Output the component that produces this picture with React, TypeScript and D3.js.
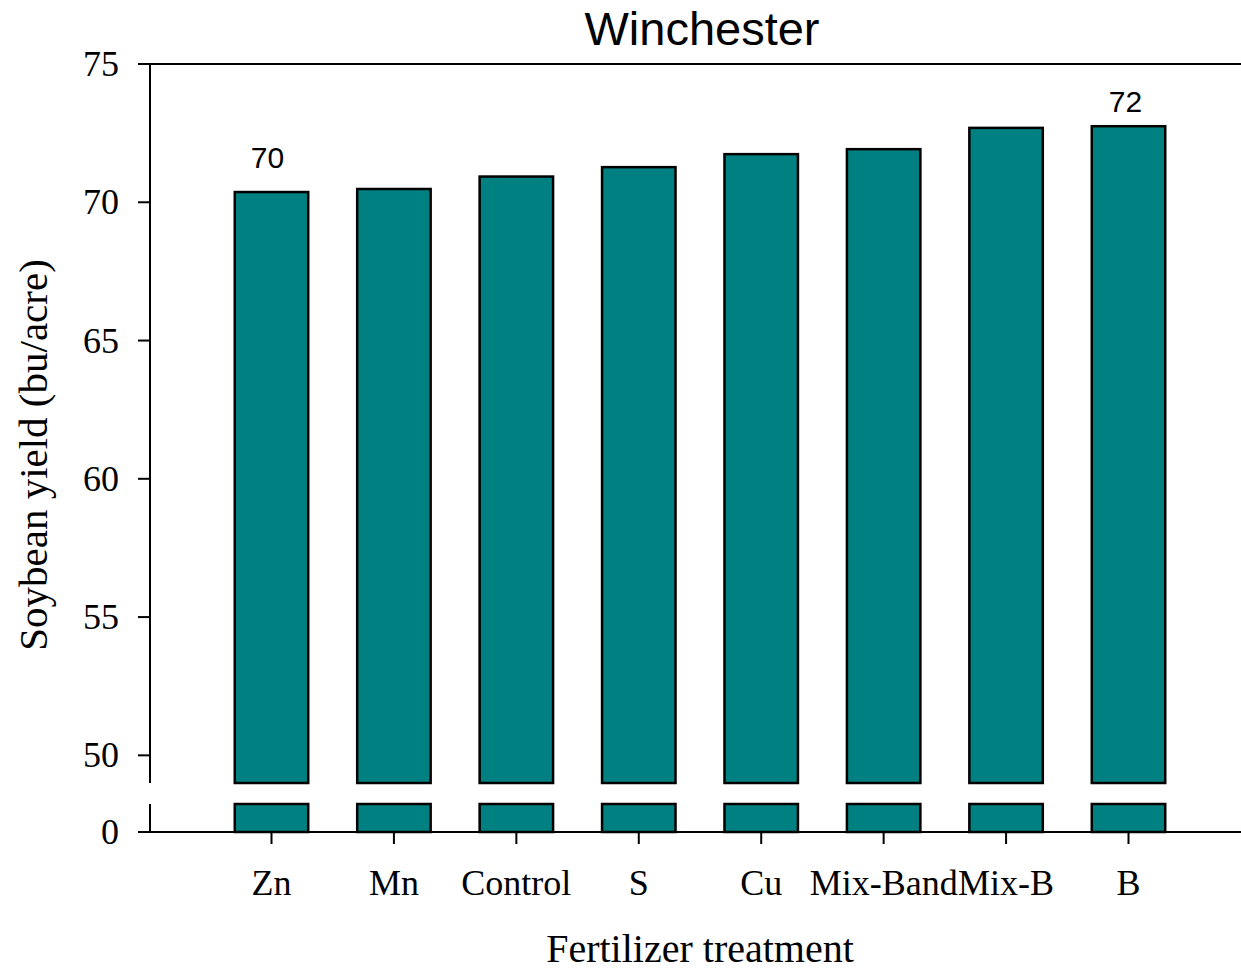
import React from "react";
import * as d3 from "d3";

const categories = ["Zn", "Mn", "Control", "S", "Cu", "Mix-Band", "Mix-B", "B"];
const yields = [70.37, 70.48, 70.93, 71.27, 71.74, 71.92, 72.69, 72.75];
const barLabels = [{ idx: 0, text: "70", gap: 24, dx: -4 }, { idx: 7, text: "72", gap: 14, dx: -3 }];
const upperTicks = [50, 55, 60, 65, 70, 75];
const lowerTicks = [0];

const W = 1241, H = 972;
const axisX = 150;
const xRight = 1241;

export default function App() {
  const x = d3.scalePoint<string>().domain(categories).range([271.5, 1128.5]);
  const bw = x.step() * 0.6;
  const yU = d3.scaleLinear().domain([49, 75]).range([783, 64]);
  const yL = d3.scaleLinear().domain([0, 1]).range([832, 804]);
  const serif = "'Liberation Serif', 'Times New Roman', serif";
  const sans = "'Liberation Sans', Arial, sans-serif";
  return (
    <svg width={W} height={H} style={{ position: "absolute", left: 0, top: 0 }}>
      <rect x={0} y={0} width={W} height={H} fill="#fff" />
      <text x={702} y={45} textAnchor="middle" fontFamily={sans} fontSize={47}>Winchester</text>
      {categories.map((c, i) => {
        const cx = x(c)!;
        return (
          <g key={c}>
            <rect x={cx - bw / 2} y={yU(yields[i])} width={bw} height={yU(49) - yU(yields[i])} fill="#008080" stroke="#000" strokeWidth={2.5} />
            <rect x={cx - bw / 2} y={yL(1)} width={bw} height={yL(0) - yL(1)} fill="#008080" stroke="#000" strokeWidth={2.5} />
          </g>
        );
      })}
      {barLabels.map((b) => (
        <text key={b.idx} x={x(categories[b.idx])! + b.dx} y={yU(yields[b.idx]) - b.gap} textAnchor="middle" fontFamily={sans} fontSize={30}>{b.text}</text>
      ))}
      <line x1={axisX} x2={axisX} y1={yU(75)} y2={yU(49)} stroke="#000" strokeWidth={2} />
      <line x1={axisX} x2={axisX} y1={yL(1)} y2={yL(0)} stroke="#000" strokeWidth={2} />
      <line x1={axisX} x2={xRight} y1={yU(75)} y2={yU(75)} stroke="#000" strokeWidth={2} />
      <line x1={138} x2={xRight} y1={yL(0)} y2={yL(0)} stroke="#000" strokeWidth={2} />
      {upperTicks.map((t) => (
        <g key={t}>
          <line x1={138} x2={axisX} y1={yU(t)} y2={yU(t)} stroke="#000" strokeWidth={2} />
          <text x={119} y={yU(t) + 12} textAnchor="end" fontFamily={serif} fontSize={36}>{t}</text>
        </g>
      ))}
      {lowerTicks.map((t) => (
        <text key={t} x={119} y={yL(t) + 12} textAnchor="end" fontFamily={serif} fontSize={36}>{t}</text>
      ))}
      {categories.map((c) => (
        <g key={c}>
          <line x1={x(c)!} x2={x(c)!} y1={yL(0)} y2={yL(0) + 12} stroke="#000" strokeWidth={2} />
          <text x={x(c)!} y={895} textAnchor="middle" fontFamily={serif} fontSize={36}>{c}</text>
        </g>
      ))}
      <text x={700} y={962} textAnchor="middle" fontFamily={serif} fontSize={40}>Fertilizer treatment</text>
      <text transform={`translate(47,455) rotate(-90)`} textAnchor="middle" fontFamily={serif} fontSize={41}>Soybean yield (bu/acre)</text>
    </svg>
  );
}
